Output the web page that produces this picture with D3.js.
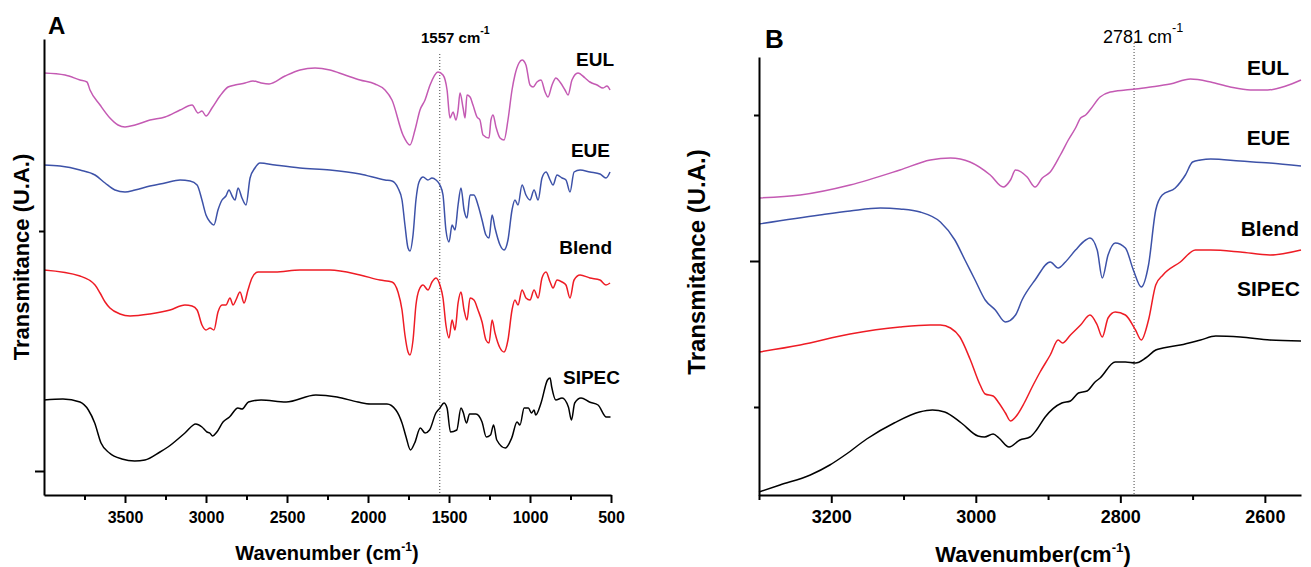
<!DOCTYPE html>
<html><head><meta charset="utf-8">
<script src="https://cdn.jsdelivr.net/npm/d3@7"></script>
<style>body{margin:0;background:#fff}svg{display:block}text{font-family:"Liberation Sans",Arial,sans-serif}</style>
</head><body>
<svg id="c" width="1311" height="567"></svg>
<script>
// ---------- DATA (wavenumber cm-1, transmittance arbitrary units) ----------
const seriesNames = ["EUL", "EUE", "Blend", "SIPEC"];
const seriesColors = ["#C45AB3", "#3D52A8", "#EE1C25", "#000000"];

const A_EUL = [[4000,422],[3870,420],[3778,415],[3735,413],[3716,405],[3654,390],[3593,377],[3543,370],[3500,368],[3438,370],[3346,375],[3253,378],[3160,385],[3086,390],[3049,382],[3025,384],[3000,379],[2963,387],[2914,399],[2864,408],[2821,410],[2759,412],[2710,414],[2660,412],[2611,411],[2512,419],[2420,425],[2327,427],[2235,425],[2142,420],[2049,415],[1957,411],[1895,405],[1852,395],[1784,360],[1741,350],[1710,365],[1679,385],[1648,395],[1617,410],[1568,423],[1537,420],[1512,405],[1494,377],[1475,383],[1457,375],[1444,385],[1432,402],[1413,387],[1401,377],[1389,400],[1370,398],[1352,390],[1327,378],[1309,375],[1290,360],[1253,357],[1241,375],[1228,380],[1210,368],[1185,357],[1160,355],[1136,375],[1111,405],[1093,420],[1068,432],[1049,435],[1025,430],[1000,410],[981,408],[957,413],[932,415],[907,403],[889,398],[864,410],[840,417],[815,413],[784,405],[765,400],[741,415],[704,422],[660,417],[630,413],[586,410],[549,407],[525,409],[506,405]];
const A_EUE = [[4000,330],[3901,329],[3778,325],[3685,320],[3623,312],[3562,305],[3500,303],[3438,305],[3346,309],[3253,312],[3160,315],[3099,314],[3055,310],[3025,295],[3000,280],[2975,273],[2951,270],[2926,285],[2901,295],[2877,299],[2858,305],[2839,299],[2821,295],[2802,307],[2778,297],[2753,290],[2728,317],[2698,327],[2667,332],[2574,330],[2420,327],[2235,325],[2049,321],[1895,315],[1852,314],[1815,307],[1790,295],[1772,270],[1753,247],[1741,244],[1722,260],[1704,295],[1685,313],[1660,318],[1630,315],[1605,317],[1580,315],[1556,310],[1537,300],[1519,265],[1500,253],[1481,270],[1463,265],[1444,290],[1426,307],[1407,285],[1389,277],[1370,300],[1346,300],[1321,290],[1296,275],[1272,260],[1253,257],[1234,280],[1216,267],[1185,250],[1160,245],[1136,255],[1111,285],[1093,295],[1074,290],[1049,310],[1025,300],[1000,295],[975,305],[950,295],[926,317],[901,323],[876,315],[858,310],[833,320],[802,317],[778,315],[753,303],[728,323],[691,325],[630,323],[568,321],[531,317],[506,323]];
const A_Blend = [[4000,225],[3778,219],[3685,210],[3654,202],[3623,193],[3593,187],[3531,181],[3469,179],[3346,181],[3222,185],[3130,190],[3086,189],[3055,185],[3025,170],[3000,165],[2975,167],[2951,165],[2926,183],[2901,190],[2877,190],[2852,197],[2833,190],[2815,195],[2790,203],[2765,192],[2741,205],[2716,217],[2679,223],[2574,223],[2420,225],[2235,225],[2049,220],[1926,215],[1852,213],[1815,203],[1790,185],[1772,160],[1753,143],[1741,140],[1722,155],[1704,190],[1685,205],[1660,210],[1630,205],[1605,213],[1580,217],[1556,210],[1537,197],[1519,170],[1500,157],[1481,175],[1463,165],[1444,192],[1426,203],[1407,185],[1389,175],[1370,197],[1346,195],[1321,185],[1296,173],[1272,155],[1253,152],[1234,175],[1216,162],[1185,147],[1160,143],[1136,155],[1111,185],[1093,195],[1074,190],[1049,205],[1025,197],[1000,195],[975,205],[950,197],[926,217],[901,223],[876,213],[858,207],[833,215],[802,213],[778,210],[753,197],[728,215],[691,220],[630,217],[568,215],[531,210],[506,212]];
const A_SIPEC = [[4000,95],[3883,96],[3778,93],[3726,85],[3687,72],[3648,52],[3596,42],[3519,36],[3440,34],[3377,35],[3284,43],[3235,48],[3130,62],[3063,71],[3025,68],[2994,63],[2977,62],[2959,59],[2933,63],[2895,73],[2855,78],[2803,87],[2778,86],[2738,93],[2660,95],[2506,93],[2322,100],[2191,98],[2062,93],[1985,91],[1883,91],[1828,85],[1790,72],[1765,58],[1738,45],[1712,52],[1677,67],[1648,62],[1620,65],[1581,82],[1556,87],[1531,92],[1512,87],[1491,63],[1452,65],[1426,87],[1413,83],[1392,72],[1373,81],[1334,81],[1296,73],[1270,58],[1244,60],[1225,70],[1205,55],[1152,47],[1113,57],[1080,73],[1062,70],[1036,87],[1010,87],[991,82],[975,85],[965,80],[932,92],[892,115],[876,117],[866,108],[841,95],[802,97],[763,88],[744,75],[724,92],[685,97],[633,93],[580,90],[529,78],[503,78]];

const B_EUL = [[3300,297],[3243,300],[3174,310],[3105,325],[3063,335],[3035,337],[3008,333],[2980,320],[2962,308],[2952,315],[2945,325],[2929,318],[2918,308],[2908,317],[2897,323],[2883,340],[2872,355],[2862,367],[2855,377],[2848,380],[2842,385],[2828,398],[2814,403],[2793,405],[2779,406],[2758,408],[2731,411],[2703,416],[2675,413],[2648,408],[2620,405],[2596,405],[2571,409],[2550,415]];
const B_EUE = [[3300,271],[3216,280],[3174,284],[3132,287],[3105,286],[3077,283],[3049,273],[3029,255],[3015,235],[3001,215],[2987,195],[2973,185],[2959,173],[2945,180],[2936,195],[2918,215],[2897,233],[2886,227],[2876,233],[2862,245],[2848,255],[2842,257],[2832,245],[2825,217],[2817,240],[2807,252],[2793,247],[2782,225],[2771,208],[2761,230],[2751,285],[2742,300],[2724,307],[2710,320],[2700,333],[2689,335],[2675,336],[2634,334],[2593,332],[2550,329]];
const B_Blend = [[3300,143],[3243,150],[3174,161],[3105,168],[3063,170],[3049,170],[3035,167],[3022,158],[3008,136],[2994,110],[2987,101],[2976,99],[2968,92],[2959,82],[2952,74],[2945,78],[2933,92],[2922,108],[2911,123],[2897,140],[2886,155],[2880,152],[2869,160],[2855,170],[2842,180],[2832,170],[2825,158],[2817,177],[2807,183],[2793,180],[2779,165],[2771,155],[2761,175],[2751,210],[2741,220],[2717,233],[2696,245],[2675,245],[2634,243],[2593,240],[2550,245]];
const B_SIPEC = [[3300,3],[3271,10],[3229,20],[3202,30],[3179,41],[3151,56],[3113,72],[3078,83],[3060,85],[3043,83],[3020,72],[2997,59],[2988,58],[2976,61],[2968,57],[2954,48],[2939,55],[2925,58],[2916,65],[2904,78],[2881,92],[2869,94],[2858,102],[2846,104],[2835,113],[2828,117],[2807,133],[2793,133],[2779,132],[2765,137],[2751,145],[2741,147],[2717,150],[2689,155],[2668,159],[2634,158],[2593,155],[2550,154]];

const A_xMajor = [3500, 3000, 2500, 2000, 1500, 1000, 500];
const A_xMinor = [3750, 3250, 2750, 2250, 1750, 1250, 750];
const A_yMajor = [24];
const A_yMinor = [264];
const B_xMajor = [3200, 3000, 2800, 2600];
const B_xMinor = [3300, 3100, 2900, 2700];
const B_yMajor = [234];
const B_yMinor = [380, 88];
const A_mark = 1557;
const B_mark = 2781;

// ---------- DRAW ----------
const svg = d3.select("#c");
const FONT = '"Liberation Sans",Arial,sans-serif';

function panel(o) {
  const x = d3.scaleLinear().domain(o.xDomain).range([o.left, o.right]);
  const y = d3.scaleLinear().domain(o.yDomain).range([o.bottom, o.top]);
  const g = svg.append("g");
  const line = d3.line().x(d => x(d[0])).y(d => y(d[1])).curve(d3.curveMonotoneX);

  g.append("line").attr("x1", x(o.mark)).attr("x2", x(o.mark))
    .attr("y1", o.markTop).attr("y2", o.bottom)
    .attr("stroke", "#444").attr("stroke-width", 1).attr("stroke-dasharray", "1,2");

  o.series.forEach((s, i) => {
    g.append("path").datum(s).attr("d", line).attr("fill", "none")
      .attr("stroke", seriesColors[i]).attr("stroke-width", 1.5).attr("stroke-linejoin", "round");
  });

  const ax = g.append("g").attr("transform", `translate(0,${o.bottom})`)
    .call(d3.axisBottom(x).tickValues(o.xMajor).tickSize(8).tickSizeOuter(0).tickFormat(d3.format("d")));
  ax.select(".domain").attr("stroke-width", 2);
  ax.selectAll(".tick line").attr("stroke-width", 2);
  ax.selectAll(".tick text").attr("font-family", FONT).attr("font-weight", "bold")
    .attr("font-size", o.tickFont).attr("fill", "#000").attr("dy", null).attr("y", 28);
  const axm = g.append("g").attr("transform", `translate(0,${o.bottom})`)
    .call(d3.axisBottom(x).tickValues(o.xMinor).tickSize(5).tickSizeOuter(0).tickFormat(""));
  axm.select(".domain").remove();
  axm.selectAll(".tick line").attr("stroke-width", 2);

  const ay = g.append("g").attr("transform", `translate(${o.left},0)`)
    .call(d3.axisLeft(y).tickValues(o.yMajor).tickSize(9).tickSizeOuter(0).tickFormat(""));
  ay.select(".domain").attr("stroke-width", 2);
  ay.selectAll(".tick line").attr("stroke-width", 2);
  const aym = g.append("g").attr("transform", `translate(${o.left},0)`)
    .call(d3.axisLeft(y).tickValues(o.yMinor).tickSize(5).tickSizeOuter(0).tickFormat(""));
  aym.select(".domain").remove();
  aym.selectAll(".tick line").attr("stroke-width", 2);

  o.labels.forEach((l, i) => {
    g.append("text").attr("x", l[0]).attr("y", l[1]).attr("text-anchor", "end")
      .attr("font-weight", "bold").attr("font-size", o.labelFont).text(seriesNames[i]);
  });

  g.append("text").attr("x", o.letterPos[0]).attr("y", o.letterPos[1])
    .attr("font-weight", "bold").attr("font-size", o.letterFont).text(o.letter);

  g.append("text").attr("transform", `translate(${o.yTitlePos[0]},${o.yTitlePos[1]}) rotate(-90)`)
    .attr("text-anchor", "middle").attr("font-weight", "bold").attr("font-size", o.yTitleFont)
    .text("Transmitance (U.A.)");

  const xt = g.append("text").attr("x", o.xTitlePos[0]).attr("y", o.xTitlePos[1])
    .attr("text-anchor", "middle").attr("font-weight", "bold").attr("font-size", o.xTitleFont);
  xt.append("tspan").text(o.xTitleText);
  xt.append("tspan").attr("font-size", o.xTitleFont * 0.6).attr("dy", -o.xTitleFont * 0.45).text("-1");
  xt.append("tspan").attr("dy", o.xTitleFont * 0.45).text(")");

  const mt = g.append("text").attr("x", o.markPos[0]).attr("y", o.markPos[1])
    .attr("font-weight", o.markBold ? "bold" : "normal").attr("font-size", o.markFont);
  mt.append("tspan").text(o.mark + " cm");
  mt.append("tspan").attr("font-size", o.markFont * 0.7).attr("dy", -o.markFont * 0.6).text("-1");
}

panel({
  xDomain: [4000, 500], yDomain: [0, 456], left: 44, right: 611, top: 39, bottom: 495,
  series: [A_EUL, A_EUE, A_Blend, A_SIPEC],
  xMajor: A_xMajor, xMinor: A_xMinor, yMajor: A_yMajor, yMinor: A_yMinor,
  mark: A_mark, markTop: 54, markPos: [421, 43], markFont: 15, markBold: true,
  tickFont: 16, labelFont: 19,
  labels: [[614, 66], [610, 157], [612, 254], [620, 384]],
  letter: "A", letterPos: [48, 34], letterFont: 24,
  yTitlePos: [29, 257], yTitleFont: 22,
  xTitlePos: [327, 560], xTitleFont: 20, xTitleText: "Wavenumber (cm"
});

panel({
  xDomain: [3300, 2550], yDomain: [0, 438], left: 759, right: 1301, top: 57, bottom: 495,
  series: [B_EUL, B_EUE, B_Blend, B_SIPEC],
  xMajor: B_xMajor, xMinor: B_xMinor, yMajor: B_yMajor, yMinor: B_yMinor,
  mark: B_mark, markTop: 43, markPos: [1103, 43], markFont: 18, markBold: false,
  tickFont: 18, labelFont: 21,
  labels: [[1289, 75], [1290, 145], [1299, 236], [1300, 296]],
  letter: "B", letterPos: [765, 48], letterFont: 26,
  yTitlePos: [705, 262], yTitleFont: 24,
  xTitlePos: [1033, 562], xTitleFont: 22, xTitleText: "Wavenumber(cm"
});
</script>
</body></html>
